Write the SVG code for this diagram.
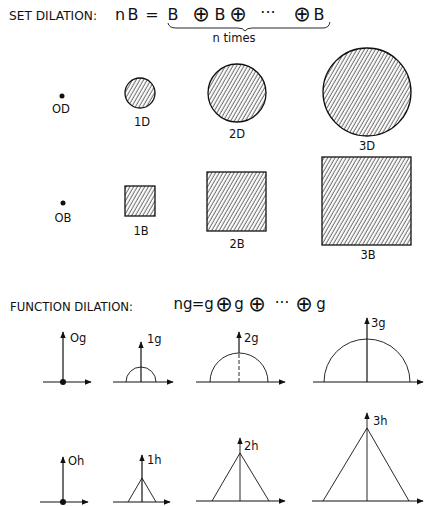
<svg xmlns="http://www.w3.org/2000/svg" width="424" height="506" viewBox="0 0 424 506">
<style>
text{font-family:"DejaVu Sans","Liberation Sans",sans-serif;fill:#111}
.lbl{font-size:11.5px;text-anchor:middle}
.hd{font-size:11.5px}
.eq{font-size:16px;text-anchor:middle}
.op{font-size:21px;text-anchor:middle}
.eq2{font-size:15px;text-anchor:middle}
.shape{fill:url(#hatch);stroke:#111;stroke-width:1.3}
.ax{stroke:#111;stroke-width:1.2;fill:none}
.cv{stroke:#111;stroke-width:0.9;fill:none}
</style>
<defs>
<pattern id="hatch" width="3.2" height="10" patternUnits="userSpaceOnUse" patternTransform="rotate(30)">
<line x1="1" y1="0" x2="1" y2="10" stroke="#222" stroke-width="0.75"/>
</pattern>
<marker id="ar" viewBox="0 0 10 10" refX="9" refY="5" markerWidth="7" markerHeight="7" orient="auto-start-reverse" markerUnits="userSpaceOnUse">
<path d="M0,1 L10,5 L0,9 Z" fill="#111"/>
</marker>
</defs>

<g id="set-title">
<text class="hd" x="9" y="20" textLength="88" lengthAdjust="spacingAndGlyphs">SET DILATION:</text>
<text class="eq" x="120" y="20">n</text>
<text class="eq" x="133" y="20">B</text>
<text class="eq" x="152" y="20">=</text>
<text class="eq" x="173" y="20">B</text>
<text class="op" x="201" y="21">⊕</text>
<text class="eq" x="220" y="20">B</text>
<text class="op" x="238" y="21">⊕</text>
<text class="eq" x="268" y="18">···</text>
<text class="op" x="302" y="21">⊕</text>
<text class="eq" x="319" y="20">B</text>
<path class="cv" d="M168,23 Q169,28 176,28 L238,28 Q243,28 245,31 Q247,28 252,28 L323,28 Q329,28 330,22" stroke-width="1.1"/>
<text class="lbl" x="234" y="42">n times</text>
</g>

<g id="n0D"><circle cx="62" cy="96" r="2.5" fill="#111"/><text class="lbl" x="61" y="113">OD</text></g>
<g id="n1D"><circle class="shape" cx="140" cy="93" r="15"/><text class="lbl" x="142" y="126">1D</text></g>
<g id="n2D"><circle class="shape" cx="237" cy="93" r="29"/><text class="lbl" x="237" y="138">2D</text></g>
<g id="n3D"><circle class="shape" cx="367" cy="92" r="44"/><text class="lbl" x="367" y="150">3D</text></g>

<g id="n0B"><circle cx="63" cy="203" r="2.5" fill="#111"/><text class="lbl" x="63" y="222">OB</text></g>
<g id="n1B"><rect class="shape" x="125" y="186" width="30" height="30"/><text class="lbl" x="141" y="235">1B</text></g>
<g id="n2B"><rect class="shape" x="207" y="172" width="59" height="59"/><text class="lbl" x="237" y="248">2B</text></g>
<g id="n3B"><rect class="shape" x="322" y="157" width="89" height="88"/><text class="lbl" x="368" y="259">3B</text></g>

<g id="func-title">
<text class="hd" x="10" y="311" textLength="123" lengthAdjust="spacingAndGlyphs">FUNCTION DILATION:</text>
<text class="eq2" x="183" y="309">ng</text>
<text class="eq2" x="198" y="309">=</text>
<text class="eq2" x="209" y="309">g</text>
<text class="op" x="224" y="311">⊕</text>
<text class="eq2" x="239" y="309">g</text>
<text class="op" x="257" y="311">⊕</text>
<text class="eq2" x="282" y="308">···</text>
<text class="op" x="304" y="311">⊕</text>
<text class="eq2" x="321" y="309">g</text>
</g>

<g id="connectors">
<g id="g0">
<line class="ax" x1="43" y1="382" x2="91" y2="382" marker-end="url(#ar)"/>
<line class="ax" x1="63" y1="382" x2="63" y2="332" marker-end="url(#ar)"/>
<circle cx="63" cy="382" r="3" fill="#111"/>
<text class="hd" x="70" y="342">Og</text>
</g>
<g id="g1">
<line class="ax" x1="113" y1="382" x2="173" y2="382" marker-end="url(#ar)" stroke="#555"/>
<path class="cv" d="M126,382 A15,15 0 0 1 156,382"/>
<line class="ax" x1="141" y1="382" x2="141" y2="342" marker-end="url(#ar)" stroke-width="1"/>
<text class="hd" x="147" y="343">1g</text>
</g>
<g id="g2">
<line class="ax" x1="196" y1="382" x2="285" y2="382" marker-end="url(#ar)"/>
<path class="cv" d="M210,382 A29,29 0 0 1 268,382"/>
<line class="cv" x1="239" y1="382" x2="239" y2="353" stroke-dasharray="4,2"/>
<line class="ax" x1="239" y1="353" x2="239" y2="332" marker-end="url(#ar)" stroke-width="1"/>
<text class="hd" x="244" y="342">2g</text>
</g>
<g id="g3">
<line class="ax" x1="313" y1="382" x2="423" y2="382" marker-end="url(#ar)"/>
<path class="cv" d="M324,382 A43,43 0 0 1 410,382"/>
<line class="ax" x1="367" y1="382" x2="367" y2="318" marker-end="url(#ar)" stroke-width="0.9"/>
<text class="hd" x="371" y="327">3g</text>
</g>

<g id="h0">
<line class="ax" x1="40" y1="502" x2="88" y2="502" marker-end="url(#ar)"/>
<line class="ax" x1="63" y1="502" x2="63" y2="457" marker-end="url(#ar)" stroke-width="1"/>
<circle cx="63" cy="502" r="3" fill="#111"/>
<text class="hd" x="68" y="465">Oh</text>
</g>
<g id="h1">
<line class="ax" x1="113" y1="502" x2="170" y2="502" marker-end="url(#ar)"/>
<path class="cv" d="M128,502 L142,478 L156,502" stroke-width="1.1"/>
<line class="ax" x1="142" y1="502" x2="142" y2="455" marker-end="url(#ar)"/>
<text class="hd" x="147" y="464">1h</text>
</g>
<g id="h2">
<line class="ax" x1="196" y1="501" x2="285" y2="501" marker-end="url(#ar)"/>
<path class="cv" d="M212,501 L240,453 L269,501" stroke-width="1.1"/>
<line class="cv" x1="240" y1="501" x2="240" y2="438" marker-end="url(#ar)"/>
<text class="hd" x="244" y="450">2h</text>
</g>
<g id="h3">
<line class="ax" x1="312" y1="501" x2="423" y2="501" marker-end="url(#ar)"/>
<path class="cv" d="M323,501 L367,428 L409,501" stroke-width="1.1"/>
<line class="cv" x1="367" y1="501" x2="367" y2="413" marker-end="url(#ar)"/>
<text class="hd" x="373" y="425">3h</text>
</g>
</g>
</svg>
